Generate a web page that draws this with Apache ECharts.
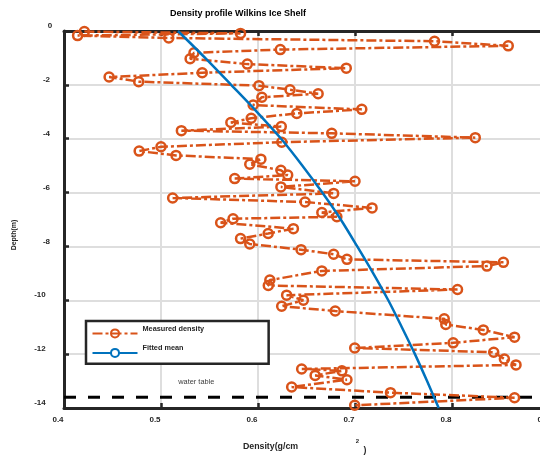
<!DOCTYPE html>
<html><head><meta charset="utf-8">
<script src="https://cdn.jsdelivr.net/npm/echarts@6/dist/echarts.min.js"></script>
<style>html,body{margin:0;padding:0;background:#fff}#c{width:540px;height:455px}</style>
</head><body><div id="c"></div>
<script>
// ---- data ----
const measuredDensity = [0.421,0.582,0.414,0.508,0.782,0.858,0.623,0.534,0.530,0.589,0.691,0.5425,0.4465,0.477,0.601,0.633,0.662,0.604,0.595,0.707,0.640,0.593,0.572,0.624,0.521,0.676,0.824,0.6245,0.500,0.4775,0.5155,0.603,0.5915,0.6236,0.6306,0.576,0.700,0.6236,0.678,0.512,0.6485,0.7176,0.6658,0.6813,0.5743,0.5615,0.6365,0.6105,0.582,0.5915,0.6444,0.678,0.6917,0.853,0.836,0.6658,0.6122,0.6106,0.8057,0.6295,0.6468,0.6244,0.6796,0.792,0.7936,0.8323,0.8645,0.8012,0.6997,0.843,0.854,0.866,0.645,0.6865,0.6589,0.6917,0.6347,0.7366,0.8645,0.6997];
const measuredDepth = [-0.02,-0.09,-0.17,-0.26,-0.38,-0.55,-0.69,-0.81,-1.03,-1.23,-1.38,-1.55,-1.71,-1.88,-2.03,-2.18,-2.33,-2.46,-2.75,-2.91,-3.06,-3.24,-3.40,-3.55,-3.70,-3.80,-3.96,-4.13,-4.30,-4.46,-4.62,-4.76,-4.95,-5.17,-5.35,-5.48,-5.58,-5.79,-6.03,-6.20,-6.35,-6.57,-6.74,-6.90,-6.97,-7.12,-7.34,-7.52,-7.71,-7.91,-8.12,-8.29,-8.48,-8.59,-8.73,-8.91,-9.25,-9.45,-9.60,-9.81,-10.00,-10.22,-10.40,-10.69,-10.90,-11.10,-11.37,-11.58,-11.77,-11.93,-12.18,-12.40,-12.55,-12.62,-12.79,-12.95,-13.22,-13.43,-13.62,-13.90];
const fittedDensity = [0.5175,0.5455,0.5723,0.5988,0.6238,0.6458,0.6663,0.6853,0.7023,0.7188,0.7343,0.7483,0.7618,0.7743,0.7863];
const fittedDepth = [0,-1,-2,-3,-4,-5,-6,-7,-8,-9,-10,-11,-12,-13,-14];
const waterTableDepth = -13.6;
const waterTableDensity = [0.4, 0.9];
const xTickLabels = ['0.4','0.5','0.6','0.7','0.8','0.9'];
const yTickLabels = ['-14','-12','-10','-8','-6','-4','-2','0'];

const FONT = "'Liberation Sans', Arial, sans-serif";
const INK = '#262626';
const ORANGE = '#D95319';
const BLUE = '#0072BD';

const chart = echarts.init(document.getElementById('c'), null, {renderer:'canvas'});
const measured = measuredDensity.map((x,i)=>[x, measuredDepth[i]]);
const fitted = fittedDensity.map((x,i)=>[x, fittedDepth[i]]);
const water = waterTableDensity.map(x=>[x, waterTableDepth]);

const xMin = parseFloat(xTickLabels[0]), xMax = parseFloat(xTickLabels[xTickLabels.length-1]);
const yMin = parseFloat(yTickLabels[0]), yMax = parseFloat(yTickLabels[yTickLabels.length-1]);

const option = {
  animation:false,
  backgroundColor:'#fff',
  title:{text:'Density profile Wilkins Ice Shelf', left:170, top:9.5, padding:0,
    textStyle:{fontSize:9, fontWeight:'bold', color:'#000', fontFamily:FONT}},
  grid:{left:64, top:31, right:-9, bottom:47, containLabel:false, outerBoundsMode:'none'},
  legend:{
    data:['Measured density','Fitted mean'],
    orient:'vertical', left:86, top:321,
    padding:[4.4,64.5,5.9,5.5],
    itemWidth:45, itemHeight:10, itemGap:6.5,
    backgroundColor:'#fff', borderColor:INK, borderWidth:2.5, borderRadius:0,
    selectedMode:false,
    formatter:(n)=>'{t|'+n+'}',
    textStyle:{fontSize:7.3, fontWeight:'bold', color:INK, fontFamily:FONT,
      rich:{t:{fontSize:7.3, fontWeight:'bold', color:INK, fontFamily:FONT, padding:[0,0,9,0]}}}
  },
  xAxis:[{
    type:'value', position:'bottom', min:xMin, max:xMax, interval:0.1,
    axisLine:{show:true, onZero:false, lineStyle:{color:INK, width:3}},
    axisTick:{show:true, inside:true, length:5, lineStyle:{color:INK, width:2.5}},
    axisLabel:{margin:8, fontSize:8, fontWeight:'bold', color:INK, fontFamily:FONT,
      padding:[0,12,0,0], formatter:(v)=>xTickLabels[Math.round((v-xMin)*10)]},
    splitLine:{show:true, lineStyle:{color:'#dedede', width:2}}
  },{
    type:'value', position:'top', min:xMin, max:xMax, interval:0.1,
    axisLine:{show:true, onZero:false, lineStyle:{color:INK, width:3}},
    axisTick:{show:true, inside:true, length:5, lineStyle:{color:INK, width:2.5}},
    axisLabel:{show:false}, splitLine:{show:false}
  }],
  yAxis:[{
    type:'value', min:yMin, max:yMax, interval:2,
    axisLine:{show:true, onZero:false, lineStyle:{color:INK, width:3}},
    axisTick:{show:true, inside:true, length:5, lineStyle:{color:INK, width:2.5}},
    axisLabel:{margin:11.7, padding:[0,0,10,0],
      formatter:(v)=>{const s=yTickLabels[Math.round((v-yMin)/2)]; const k=s.length===1?'a':(s.length===2?'b':'c'); return '{'+k+'|'+s+'}';},
      rich:{
        a:{fontSize:8, fontWeight:'bold', color:INK, fontFamily:FONT, padding:[0,0,0,0]},
        b:{fontSize:8, fontWeight:'bold', color:INK, fontFamily:FONT, padding:[0,2.3,0,0]},
        c:{fontSize:8, fontWeight:'bold', color:INK, fontFamily:FONT, padding:[0,6.6,0,0]}
      }},
    splitLine:{show:true, lineStyle:{color:'#dedede', width:2}}
  }],
  graphic:[
    {type:'text', x:196.3, y:382.3, silent:true,
      style:{text:'water table', fontSize:7.4, fill:'#404040', fontFamily:FONT, align:'center', verticalAlign:'middle'}},
    {type:'text', x:14, y:235, rotation:Math.PI/2, silent:true,
      style:{text:'Depth(m)', fontSize:7, fontWeight:'bold', fill:INK, fontFamily:FONT, align:'center', verticalAlign:'middle'}},
    {type:'text', x:270.5, y:447, silent:true,
      style:{text:'Density(g/cm', fontSize:8.8, fontWeight:'bold', fill:INK, fontFamily:FONT, align:'center', verticalAlign:'middle'}},
    {type:'text', x:357.3, y:441.7, silent:true,
      style:{text:'2', fontSize:6, fontWeight:'bold', fill:INK, fontFamily:FONT, align:'center', verticalAlign:'middle'}},
    {type:'text', x:365, y:451, silent:true,
      style:{text:')', fontSize:8.8, fontWeight:'bold', fill:INK, fontFamily:FONT, align:'center', verticalAlign:'middle'}}
  ],
  series:[
    {name:'water table', type:'line', data:water, showSymbol:false, silent:true, z:1,
      lineStyle:{color:'#000', width:3, type:[12,12]}},
    {name:'Measured density', type:'line', data:measured, symbol:'circle', symbolSize:9,
      showAllSymbol:true, clip:false, z:2,
      lineStyle:{color:ORANGE, width:2.5, type:[10,3,3,3]},
      itemStyle:{color:'rgba(255,255,255,0)', borderColor:ORANGE, borderWidth:2.5}},
    {name:'Fitted mean', type:'line', data:fitted, smooth:0.3, showSymbol:false, z:3,
      lineStyle:{color:BLUE, width:2.5}, itemStyle:{color:BLUE}}
  ]
};
chart.setOption(option);
</script>
</body></html>
